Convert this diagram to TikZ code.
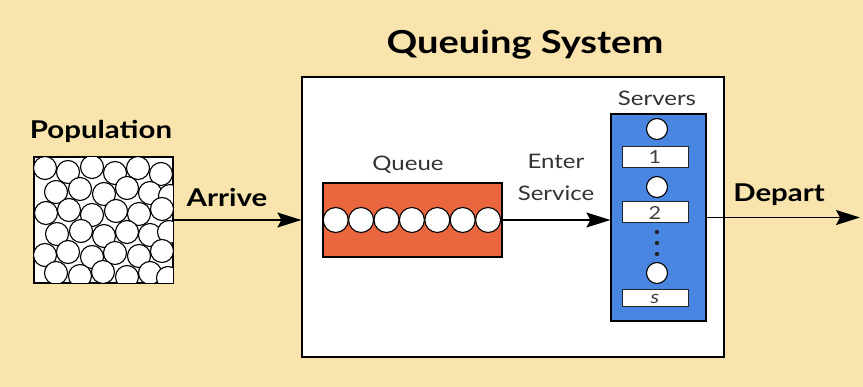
\documentclass[tikz,border=0pt]{standalone}
\usepackage{fontspec}
\setmainfont[FakeStretch=1.2]{Lato}
\usetikzlibrary{arrows.meta}
\definecolor{bg}{RGB}{248,228,172}
\definecolor{qorange}{RGB}{234,102,62}
\definecolor{sblue}{RGB}{72,134,226}
\begin{document}
\begin{tikzpicture}[x=1pt,y=-1pt,
  box/.style={draw=black, line width=1.2pt, inner sep=0pt},
  ball/.style={draw=black, fill=white, line width=1.1pt},
  arr/.style={line width=1.3pt, -{Stealth[length=24pt,width=15pt,inset=4pt]}},
  boldlab/.style={font=\bfseries\fontsize{24.5}{28}\selectfont},
  lab/.style={font=\fontsize{20}{24}\selectfont, text=black!80},
  slot/.style={draw=black!85, fill=white, line width=1pt, minimum width=66pt, inner sep=0pt, font=\fontsize{18}{18}\selectfont, text=black!75}]
\fill[bg] (0,0) rectangle (863,387);
\useasboundingbox (0,0) rectangle (863,387);

% queuing system
\node[box, fill=white, minimum width=422pt, minimum height=280pt] (qs) at (513,217) {};
\node[font=\bfseries\fontsize{31.7}{36}\selectfont] (title) at (525,45) {Queuing System};

% population
\node[box, fill=white, minimum width=139pt, minimum height=126pt] (pop) at (103.5,220) {};
\node[boldlab] (poplab) at (101,131) {Population};
\begin{scope}
\clip (pop.south west) rectangle (pop.north east);
\foreach \px/\py in {
  45/168, 68/172, 92/167, 115/173, 138/168, 161/174,
  56/192, 80/189, 104/194, 127/188, 150/193, 170/196,
  46/213, 69/210, 92/215, 116/211, 139/214, 162/209,
  57/234, 81/231, 104/236, 127/232, 150/235, 169/232,
  45/255, 68/252, 92/257, 115/253, 139/256, 162/251,
  56/273, 80/276, 103/272, 127/277, 150/273, 168/278}
  \draw[ball] (\px,\py) circle (11.5);
\end{scope}
\draw[line width=1.2pt] (pop.south west) rectangle (pop.north east);

% queue
\node[box, fill=qorange, minimum width=179pt, minimum height=74pt] (queue) at (412.5,220) {};
\foreach \i in {0,...,6}
  \draw[ball] ({335.7+25.4*\i},220) circle (12.5);
\node[lab] (queuelab) at (408,165) {Queue};
\node[lab, align=center, font=\fontsize{20}{32}\selectfont] (enterlab) at (556,177) {Enter\\Service};

% servers
\node[box, fill=sblue, minimum width=95pt, minimum height=207pt] (srv) at (658.5,217.5) {};
\node[lab] (srvlab) at (657,98) {Servers};
\draw[ball] (657,129) circle (10.5);
\node[slot, minimum height=21pt] (s1) at (655,157.5) {1};
\draw[ball] (657,187) circle (10.5);
\node[slot, minimum height=21pt] (s2) at (655,212.5) {2};
\foreach \dy in {232,243,254} \fill[black!85] (657,\dy) circle (2.2);
\draw[ball] (657,273) circle (10.5);
\node[slot, minimum height=17pt] (s3) at (655,298.5) {\itshape s};

% connectors
\coordinate (out) at (860,217.5);
\draw[arr] (pop.east) -- (pop.east -| qs.west);
\draw[arr] (queue.east) -- (queue.east -| srv.west);
\draw[arr] (srv.east) -- (out);

\node[boldlab] (arrive) at (227,198) {Arrive};
\node[boldlab] (depart) at (779,195) {Depart};
\end{tikzpicture}
\end{document}
